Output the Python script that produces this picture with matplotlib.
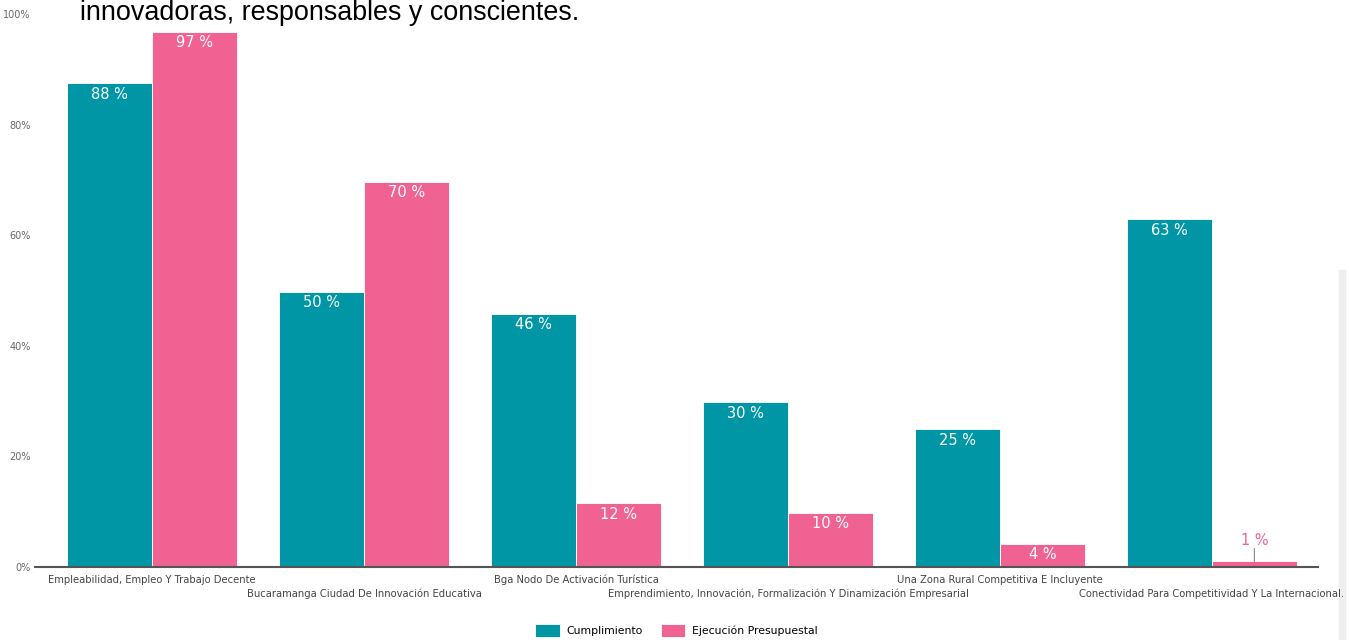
import numpy as np
import matplotlib.pyplot as plt
from matplotlib.patches import Rectangle

# Datos
categorias = ["Empleabilidad, Empleo Y Trabajo Decente",
              "Bucaramanga Ciudad De Innovación Educativa",
              "Bga Nodo De Activación Turística",
              "Emprendimiento, Innovación, Formalización Y Dinamización Empresarial",
              "Una Zona Rural Competitiva E Incluyente",
              "Conectividad Para Competitividad Y La Internacional."]
cumplimiento = [87.5, 49.8, 45.8, 29.8, 24.9, 62.9]
ejecucion = [96.8, 69.7, 11.5, 9.8, 4.2, 1.0]
yticks = [0, 20, 40, 60, 80, 100]

teal = "#0096A6"
pink = "#F06292"

fig = plt.figure(figsize=(13.49, 6.4), dpi=100)
ax = fig.add_axes([35/1349, 1-567/640, (1318-35)/1349, (567-14)/640])

x = np.arange(len(categorias))
w = 0.4
b1 = ax.bar(x - w/2, cumplimiento, w, color=teal, edgecolor="white", linewidth=0.6)
b2 = ax.bar(x + w/2, ejecucion, w, color=pink, edgecolor="white", linewidth=0.6)

# Etiquetas de valores
for xi, v in zip(x - w/2, cumplimiento):
    ax.annotate(f"{round(v)} %", xy=(xi, v), xytext=(0, -11), textcoords="offset pixels",
                ha="center", va="center", color="white", fontsize=10.5)
for xi, v in zip(x + w/2, ejecucion):
    if v >= 4:
        ax.annotate(f"{round(v)} %", xy=(xi, v), xytext=(0, -11), textcoords="offset pixels",
                    ha="center", va="center", color="white", fontsize=10.5)
    else:
        ax.annotate(f"{round(v)} %", xy=(xi, v), xytext=(0, 21), textcoords="offset pixels",
                    ha="center", va="center", color=pink, fontsize=10.5)
        ax.annotate("", xy=(xi, v), xytext=(0, 13), textcoords="offset pixels",
                    arrowprops=dict(arrowstyle="-", color="#888888", lw=0.8,
                                    shrinkA=0, shrinkB=0))

ax.set_xlim(-0.552, 5.5)
ax.set_ylim(0, 100)
ax.set_yticks(yticks)
ax.set_yticklabels([f"{t}%" for t in yticks], fontsize=7, color="#666666")
ax.tick_params(axis="y", length=0, pad=3)
ax.set_xticks(x)
ax.set_xticklabels([])
ax.tick_params(axis="x", length=0)
for s in ["top", "right", "left"]:
    ax.spines[s].set_visible(False)
ax.spines["bottom"].set_color("#555555")
ax.spines["bottom"].set_linewidth(1.5)

# Etiquetas de categorías alternadas
for i, c in enumerate(categorias):
    dy = 13 if i % 2 == 0 else 27
    ax.annotate(c, xy=(i, 0), xycoords="data", xytext=(0, -dy), textcoords="offset pixels",
                ha="center", va="center", fontsize=7.2, color="#444444")

# Leyenda
ax.legend([b1, b2], ["Cumplimiento", "Ejecución Presupuestal"], loc="upper center",
          bbox_to_anchor=(0.5, -0.086), ncol=2, frameon=False, fontsize=7.8,
          handlelength=2.3, handleheight=1.4, columnspacing=1.6, handletextpad=0.6)

# Título cortado arriba
fig.text(80/1349, 1-20/640, "innovadoras, responsables y conscientes.",
         fontsize=19.4, family="Liberation Sans", va="baseline", ha="left", color="black")

# Barra gris a la derecha
fig.patches.append(Rectangle((1339/1349, 0), 6/1349, (640-270)/640,
                             transform=fig.transFigure, color="#eeeeee", zorder=-1))

plt.savefig("out.png", dpi=100)
